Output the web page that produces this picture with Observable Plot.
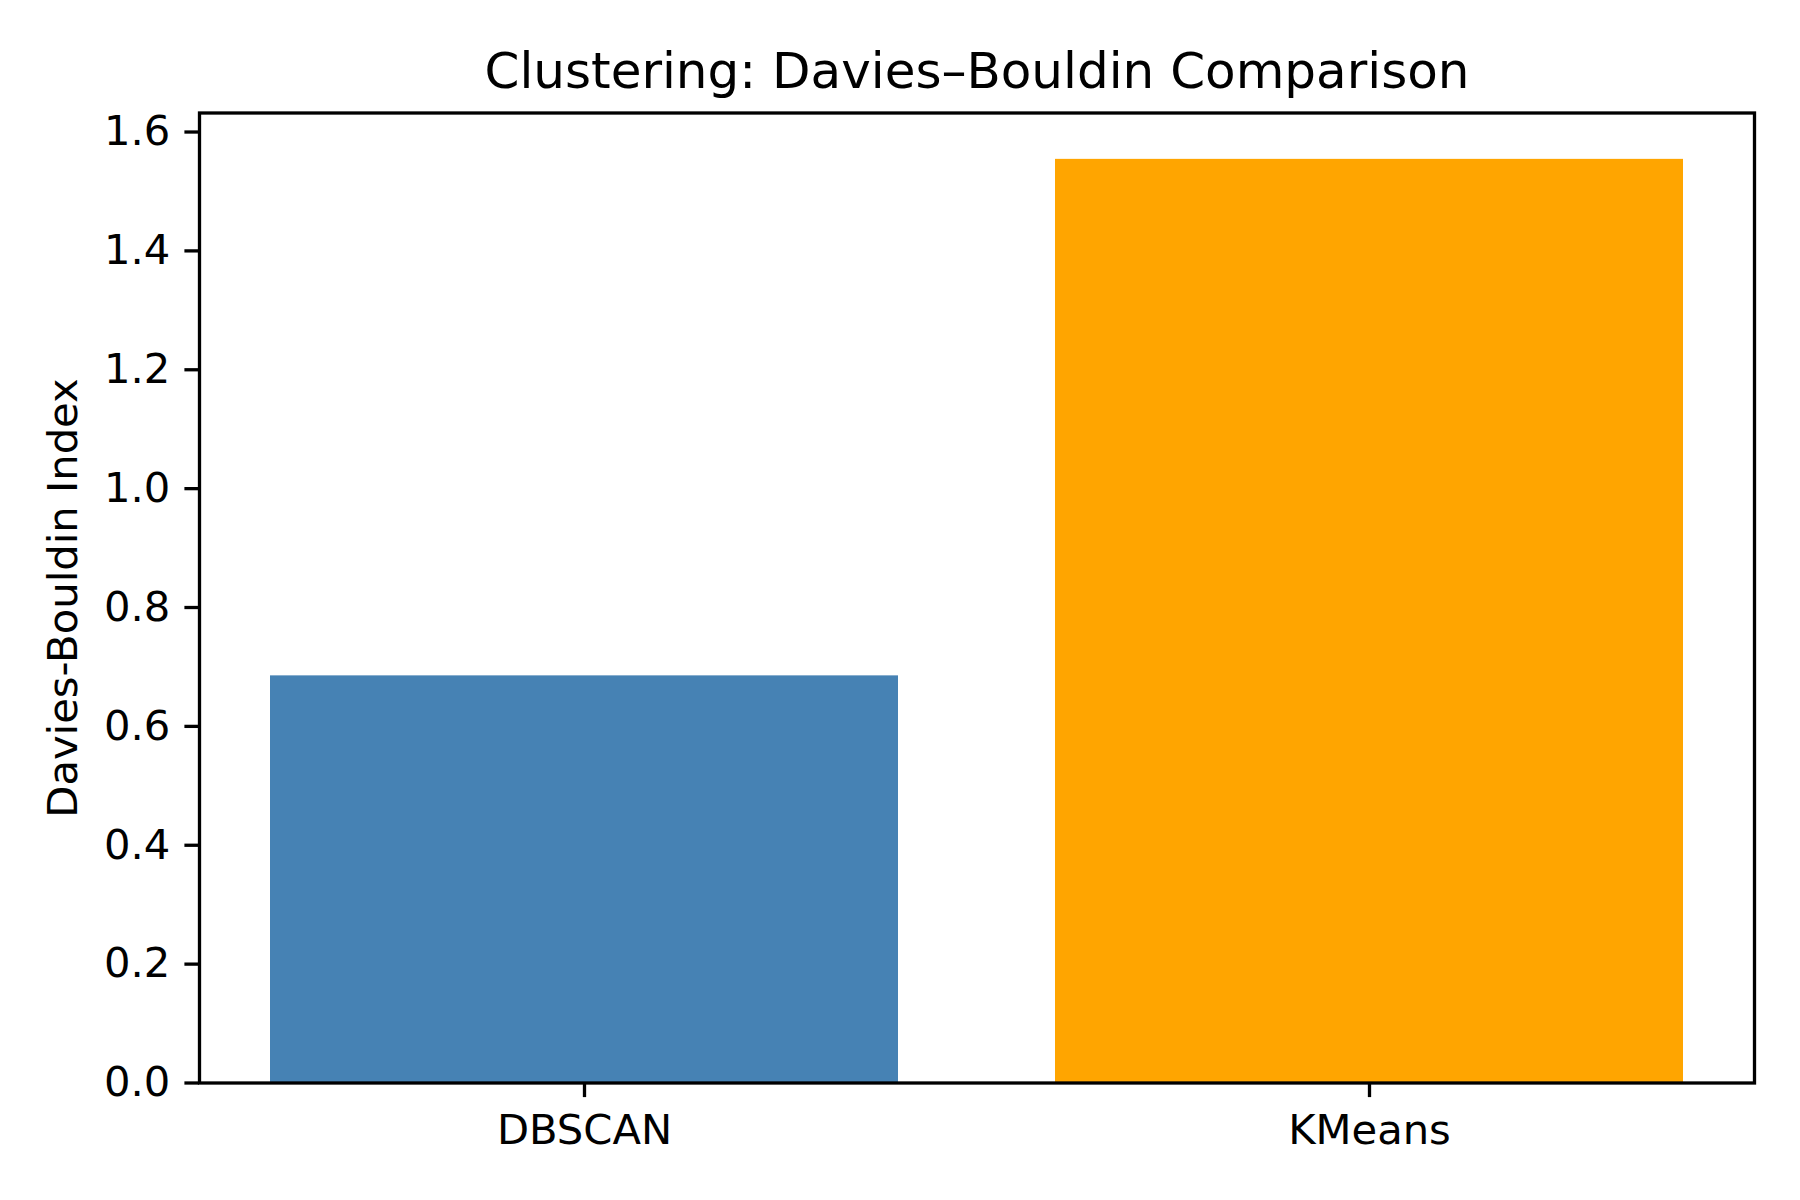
<!DOCTYPE html>
<html>
<head>
<meta charset="utf-8">
<script src="https://cdn.jsdelivr.net/npm/d3@7"></script>
<script src="https://cdn.jsdelivr.net/npm/@observablehq/plot@0.6"></script>
<style>
  html, body { margin: 0; padding: 0; background: #fff; }
</style>
</head>
<body>
<div id="chart"></div>
<script>
const methods = ["DBSCAN", "KMeans"];
const scores = [0.685, 1.554];
const barColors = ["#4682b4", "#ffa500"];
const yTicks = [0, 0.2, 0.4, 0.6, 0.8, 1.0, 1.2, 1.4, 1.6];
const titleText = "Clustering: Davies–Bouldin Comparison";
const yLabelText = "Davies-Bouldin Index";

const data = methods.map((m, i) => ({method: m, score: scores[i], color: barColors[i]}));

const W = 1800, H = 1200;
const mL = 199, mR = 46, mT = 112.5, mB = 117.5;
const fs = 41.7;
const font = "DejaVu Sans";

const chart = Plot.plot({
  width: W,
  height: H,
  marginLeft: mL,
  marginRight: mR,
  marginTop: mT,
  marginBottom: mB,
  style: {fontFamily: font, fontSize: fs + "px", background: "#fff", color: "#000"},
  x: {domain: methods, paddingInner: 0.2, paddingOuter: 0.09, align: 0.5},
  y: {domain: [0, 1.632]},
  marks: [
    Plot.barY(data, {x: "method", y: "score", fill: "color"}),
    Plot.frame({stroke: "#000", strokeWidth: 3.3}),
    Plot.axisY({ticks: yTicks, tickFormat: d3.format(".1f"), tickSize: 14.6, tickPadding: 14.6, strokeWidth: 3.3, fontSize: fs, label: null}),
    Plot.axisX({tickSize: 14.6, tickPadding: 17, strokeWidth: 3.3, fontSize: fs, label: null}),
    Plot.text([titleText], {frameAnchor: "top", lineAnchor: "middle", dy: -41.3, fontSize: 50, text: d => d}),
    Plot.text([yLabelText], {frameAnchor: "left", textAnchor: "middle", lineAnchor: "middle", dx: -136, rotate: -90, fontSize: fs, text: d => d})
  ]
});
document.getElementById("chart").appendChild(chart);
</script>
</body>
</html>
